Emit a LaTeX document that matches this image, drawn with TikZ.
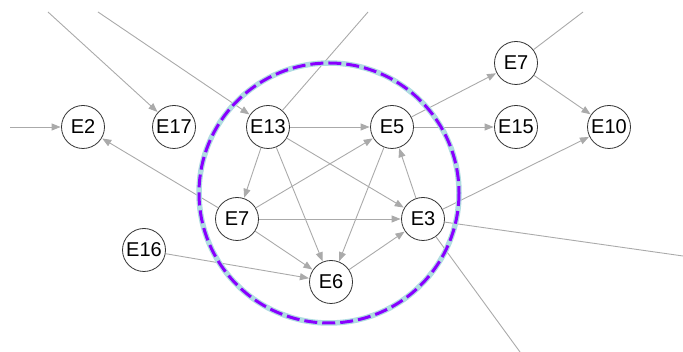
\documentclass[tikz,border=0pt]{standalone}
\usepackage{fontspec}
\setmainfont{Liberation Sans}
\usetikzlibrary{arrows.meta}
\definecolor{edgegray}{RGB}{170,170,170}
\definecolor{ringblue}{RGB}{175,220,225}
\definecolor{ringpurple}{RGB}{136,0,255}
\tikzset{
  ent/.style={circle, draw=black!80, line width=0.8pt, fill=white, minimum size=43pt, inner sep=0pt, font=\fontsize{20}{20}\selectfont},
  link/.style={draw=edgegray, line width=0.9pt, -{Triangle[length=9pt,width=7pt]}, shorten >=0.5pt},
  tail/.style={draw=edgegray, line width=0.9pt},
}
\begin{document}
\begin{tikzpicture}[x=1pt,y=-1pt]
\useasboundingbox (0,0) rectangle (683,352);
% loose ends
\coordinate (inE2) at (10,127);
\coordinate (inE17) at (48,12);
\coordinate (inE13) at (98,12);
\coordinate (outE13) at (368,12);
\coordinate (outE7b) at (583,12);
\coordinate (outE3a) at (683,256);
\coordinate (outE3b) at (520,352);
% entities
\node[ent] (E2) at (83,127) {E2};
\node[ent] (E17) at (174,127) {E17};
\node[ent] (E13) at (268,127) {E13};
\node[ent] (E5) at (392,127) {E5};
\node[ent] (E15) at (516,127) {E15};
\node[ent] (E10) at (609,127) {E10};
\node[ent] (E7b) at (516,63) {E7};
\node[ent] (E7) at (237,219) {E7};
\node[ent] (E3) at (423,219) {E3};
\node[ent] (E16) at (144,250) {E16};
\node[ent] (E6) at (331,282) {E6};
% links
\draw[link] (inE2) -- (E2);
\draw[link] (inE17) -- (E17);
\draw[link] (inE13) -- (E13);
\draw[tail] (E13) -- (outE13);
\draw[link] (E13) -- (E5);
\draw[link] (E13) -- (E7);
\draw[link] (E13) -- (E6);
\draw[link] (E13) -- (E3);
\draw[link] (E7) -- (E2);
\draw[link] (E7) -- (E5);
\draw[link] (E7) -- (E3);
\draw[link] (E7) -- (E6);
\draw[link] (E16) -- (E6);
\draw[link] (E5) -- (E6);
\draw[link] (E3) -- (E5);
\draw[link] (E6) -- (E3);
\draw[link] (E5) -- (E7b);
\draw[link] (E5) -- (E15);
\draw[link] (E7b) -- (E10);
\draw[tail] (E7b) -- (outE7b);
\draw[link] (E3) -- (E10);
\draw[tail] (E3) -- (outE3a);
\draw[tail] (E3) -- (outE3b);
% group ring
\coordinate (ringc) at (329,193);
\draw[ringblue, line width=5.5pt] (ringc) circle (130);
\draw[ringpurple, line width=3pt, dash pattern=on 13pt off 5pt] (ringc) circle (130);
\end{tikzpicture}
\end{document}
